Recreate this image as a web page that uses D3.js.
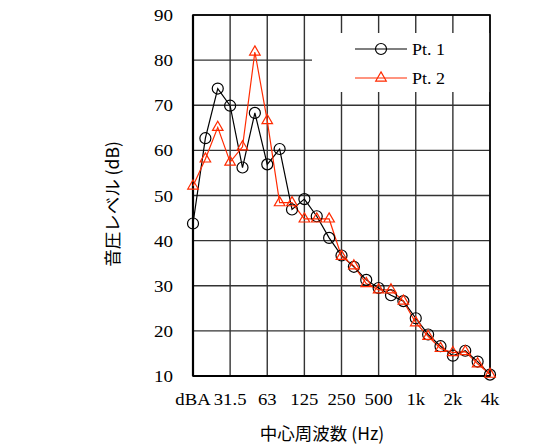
<!DOCTYPE html>
<html>
<head>
<meta charset="utf-8">
<script src="https://cdn.jsdelivr.net/npm/d3@7"></script>
<style>
  body { margin: 0; background: #fff; }
  text { font-family: "Liberation Serif", "Times New Roman", serif; fill: #000; }
  .jp { font-family: "Noto Sans CJK JP", "Liberation Serif", serif; }
</style>
</head>
<body>
<div id="chart"></div>
<script>
// 1/3 octave bands (dBA first)
const bands = ['dBA', '20', '25', '31.5', '40', '50', '63', '80', '100', '125', '160', '200',
  '250', '315', '400', '500', '630', '800', '1k', '1.25k', '1.6k', '2k', '2.5k', '3.15k', '4k'];
const tickLabels = ['dBA', '31.5', '63', '125', '250', '500', '1k', '2k', '4k'];
const yTicks = [10, 20, 30, 40, 50, 60, 70, 80, 90];

const pt1 = [43.8, 62.7, 73.7, 69.9, 56.2, 68.3, 56.9, 60.3, 46.9, 49.2, 45.4, 40.6,
  36.7, 34.2, 31.3, 29.5, 27.9, 26.6, 22.8, 19.2, 16.6, 14.5, 15.6, 13.2, 10.3];
const pt2 = [52.1, 58.1, 65.1, 57.4, 60.8, 81.8, 66.6, 48.4, 48.4, 44.8, 44.8, 44.8,
  36.5, 34.4, 30.5, 29.1, 29.1, 26.6, 21.8, 18.8, 16.1, 15.2, 15.4, 12.7, 10.4];

const width = 559, height = 447;
const plotL = 193, plotR = 490, plotT = 15, plotB = 376;

const svg = d3.select('#chart').append('svg')
  .attr('width', width)
  .attr('height', height);

const x = d3.scalePoint().domain(bands).range([plotL, plotR]);
const y = d3.scaleLinear().domain([10, 90]).range([plotB, plotT]);

// text is a bit wider than Liberation Serif, so stretch it
function label(px, py, str, anchor, size, sx) {
  return svg.append('text')
    .attr('transform', `translate(${px},${py}) scale(${sx},1)`)
    .attr('text-anchor', anchor)
    .attr('font-size', size)
    .text(str);
}

// grid
svg.append('g').selectAll('line')
  .data(yTicks)
  .enter().append('line')
  .attr('x1', plotL).attr('x2', plotR)
  .attr('y1', d => y(d)).attr('y2', d => y(d))
  .attr('stroke', '#333').attr('stroke-width', 1.4);

svg.append('g').selectAll('line')
  .data(tickLabels)
  .enter().append('line')
  .attr('x1', d => x(d)).attr('x2', d => x(d))
  .attr('y1', plotT).attr('y2', plotB)
  .attr('stroke', '#333').attr('stroke-width', 1.4);

// legend background
svg.append('rect')
  .attr('x', 312).attr('y', 33)
  .attr('width', plotR - 312).attr('height', 59)
  .attr('fill', '#fff');

// frame
svg.append('rect')
  .attr('x', plotL).attr('y', plotT)
  .attr('width', plotR - plotL).attr('height', plotB - plotT)
  .attr('fill', 'none').attr('stroke', '#000').attr('stroke-width', 1.6);
svg.append('line')
  .attr('x1', plotL).attr('x2', plotL).attr('y1', plotT).attr('y2', plotB)
  .attr('stroke', '#000').attr('stroke-width', 2.2);
svg.append('line')
  .attr('x1', plotL).attr('x2', plotR).attr('y1', plotB).attr('y2', plotB)
  .attr('stroke', '#000').attr('stroke-width', 2.2);

// axis labels
yTicks.forEach(d => label(173, y(d) + 6, d, 'end', 17, 1.12));
tickLabels.forEach(d => label(x(d), 405, d, 'middle', 17, 1.1));

svg.append('text')
  .attr('class', 'jp')
  .attr('x', 322).attr('y', 440)
  .attr('text-anchor', 'middle')
  .attr('font-size', 17.5)
  .text('中心周波数 (Hz)');

svg.append('text')
  .attr('class', 'jp')
  .attr('transform', 'translate(119,204) rotate(-90)')
  .attr('text-anchor', 'middle')
  .attr('font-size', 17.5)
  .text('音圧レベル (dB)');

// series
const red = '#ff2a00';
const line = d3.line()
  .x((d, i) => x(bands[i]))
  .y(d => y(d));

svg.append('path')
  .datum(pt1)
  .attr('d', line)
  .attr('fill', 'none').attr('stroke', '#000').attr('stroke-width', 1.2);

svg.append('path')
  .datum(pt2)
  .attr('d', line)
  .attr('fill', 'none').attr('stroke', red).attr('stroke-width', 1.2);

const tri = d3.symbol().type(d3.symbolTriangle).size(48);

svg.append('g').selectAll('circle')
  .data(pt1)
  .enter().append('circle')
  .attr('cx', (d, i) => x(bands[i]))
  .attr('cy', d => y(d))
  .attr('r', 5.5)
  .attr('fill', 'none').attr('stroke', '#000').attr('stroke-width', 1.2);

svg.append('g').selectAll('path')
  .data(pt2)
  .enter().append('path')
  .attr('d', tri)
  .attr('transform', (d, i) => `translate(${x(bands[i])},${y(d)})`)
  .attr('fill', 'none').attr('stroke', red).attr('stroke-width', 1.2);

// legend
const legend = [
  { name: 'Pt. 1', color: '#000', ly: 49 },
  { name: 'Pt. 2', color: red, ly: 78 }
];
legend.forEach(l => {
  svg.append('line')
    .attr('x1', 355).attr('x2', 407).attr('y1', l.ly).attr('y2', l.ly)
    .attr('stroke', l.color).attr('stroke-width', 1.2);
  label(412, l.ly + 6, l.name, 'start', 17, 1.06);
});
svg.append('circle')
  .attr('cx', 381).attr('cy', 49).attr('r', 5.5)
  .attr('fill', 'none').attr('stroke', '#000').attr('stroke-width', 1.2);
svg.append('path')
  .attr('d', tri)
  .attr('transform', 'translate(381,78)')
  .attr('fill', 'none').attr('stroke', red).attr('stroke-width', 1.2);
</script>
</body>
</html>
